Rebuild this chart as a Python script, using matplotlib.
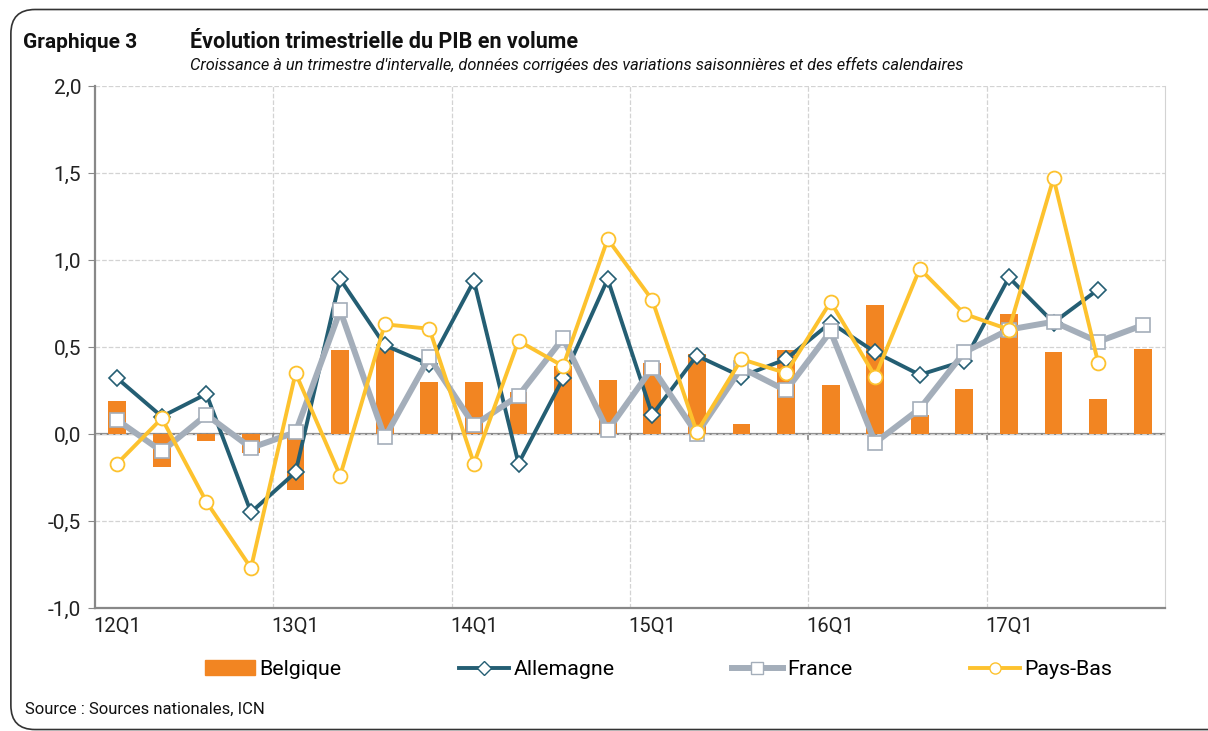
import matplotlib
matplotlib.use('Agg')
import matplotlib.pyplot as plt
import numpy as np
from matplotlib.patches import FancyBboxPatch, Patch
from matplotlib.lines import Line2D
from matplotlib.ticker import FuncFormatter

plt.rcParams['font.family'] = ['Roboto', 'DejaVu Sans']

quarters = ['12Q1', '12Q2', '12Q3', '12Q4', '13Q1', '13Q2', '13Q3', '13Q4',
            '14Q1', '14Q2', '14Q3', '14Q4', '15Q1', '15Q2', '15Q3', '15Q4',
            '16Q1', '16Q2', '16Q3', '16Q4', '17Q1', '17Q2', '17Q3', '17Q4']
belgique = [0.19, -0.19, -0.04, -0.11, -0.32, 0.48, 0.49, 0.30,
            0.30, 0.24, 0.39, 0.31, 0.41, 0.46, 0.06, 0.48,
            0.28, 0.74, 0.11, 0.26, 0.69, 0.47, 0.20, 0.49]
allemagne = [0.32, 0.10, 0.23, -0.45, -0.22, 0.89, 0.51, 0.40,
             0.88, -0.17, 0.32, 0.89, 0.11, 0.45, 0.33, 0.43,
             0.64, 0.47, 0.34, 0.42, 0.90, 0.64, 0.83, None]
france = [0.08, -0.10, 0.11, -0.08, 0.01, 0.71, -0.02, 0.44,
          0.05, 0.22, 0.55, 0.02, 0.38, 0.00, 0.38, 0.25,
          0.59, -0.05, 0.145, 0.47, 0.60, 0.645, 0.53, 0.625]
pays_bas = [-0.17, 0.09, -0.39, -0.77, 0.35, -0.24, 0.63, 0.605,
            -0.17, 0.535, 0.39, 1.12, 0.77, 0.01, 0.43, 0.35,
            0.76, 0.33, 0.95, 0.69, 0.60, 1.47, 0.41, None]

c_bel = '#F28522'
c_all = '#245E73'
c_fra = '#A4AEBA'
c_nl = '#FDC22E'

fig = plt.figure(figsize=(12.08, 7.31), dpi=100)
frame = FancyBboxPatch((0.009, 0.002), 1.2, 0.985, boxstyle='round,pad=0,rounding_size=0.02',
                       transform=fig.transFigure, fill=False, edgecolor='#333333', lw=1.2,
                       mutation_aspect=1208 / 731)
fig.patches.append(frame)

ax = fig.add_axes([0.0786, 0.1683, 0.8858, 0.7141])
x = np.arange(len(quarters))

def arr(v):
    return np.array([np.nan if a is None else a for a in v], dtype=float)

ax.bar(x, belgique, width=0.4, color=c_bel, zorder=2)
ax.plot(x, arr(allemagne), color=c_all, lw=2.8, marker='D', ms=8.5, mfc='white',
        mec=c_all, mew=1.2, zorder=3)
ax.plot(x, arr(france), color=c_fra, lw=4.3, marker='s', ms=9.5, mfc='white',
        mec=c_fra, mew=1.2, zorder=4)
ax.plot(x, arr(pays_bas), color=c_nl, lw=2.8, marker='o', ms=10, mfc='white',
        mec=c_nl, mew=1.3, zorder=5)

ax.set_xlim(-0.5, len(quarters) - 0.5)
ax.set_ylim(-1.0, 2.0)
ax.set_yticks(np.arange(-1.0, 2.01, 0.5))
ax.yaxis.set_major_formatter(FuncFormatter(lambda v, p: ('%.1f' % v).replace('.', ',')))
ax.set_xticks(x[::4])
ax.set_xticklabels(quarters[::4])
ax.tick_params(axis='x', length=0, labelsize=14.5, pad=6, colors='#222222')
ax.tick_params(axis='y', length=5, labelsize=15, colors='#222222', pad=5)
ax.tick_params(axis='y', color='#888888')

ax.grid(axis='y', ls='--', color='#D3D3D3', lw=0.9, zorder=0)
for b in x[3:-1:4] + 0.5:
    ax.axvline(b, ls='--', color='#D3D3D3', lw=0.9, zorder=0)
    ax.plot([b, b], [0, -0.03], color='#888888', lw=1.2, zorder=1)
ax.axhline(0, color='#888888', lw=1.6, zorder=1)

ax.spines['top'].set_visible(False)
ax.spines['left'].set_color('#888888')
ax.spines['left'].set_linewidth(1.6)
ax.spines['bottom'].set_color('#888888')
ax.spines['bottom'].set_linewidth(1.6)
ax.spines['right'].set_color('#D3D3D3')

fig.text(0.019, 0.934, 'Graphique 3', fontsize=15, fontweight='bold', color='#111111',
         va='baseline')
fig.text(0.157, 0.934, 'Évolution trimestrielle du PIB en volume', fontsize=15.5,
         fontweight='bold', color='#111111', va='baseline')
fig.text(0.157, 0.904, "Croissance à un trimestre d'intervalle, données corrigées des variations "
         "saisonnières et des effets calendaires", fontsize=11.8, style='italic', color='#111111',
         va='baseline')
fig.text(0.021, 0.024, 'Source : Sources nationales, ICN', fontsize=12, color='#111111')

handles = [
    Patch(color=c_bel),
    Line2D([], [], color=c_all, lw=2.8, marker='D', ms=7, mfc='white', mec=c_all),
    Line2D([], [], color=c_fra, lw=4.3, marker='s', ms=8, mfc='white', mec=c_fra),
    Line2D([], [], color=c_nl, lw=2.8, marker='o', ms=8, mfc='white', mec=c_nl),
]
fig.legend(handles, ['Belgique', 'Allemagne', 'France', 'Pays-Bas'], loc='center',
           bbox_to_anchor=(0.545, 0.084), ncol=4, frameon=False, fontsize=15.4,
           handlelength=2.35, handletextpad=0.2, columnspacing=5.5)

fig.savefig('out.png', dpi=100)
